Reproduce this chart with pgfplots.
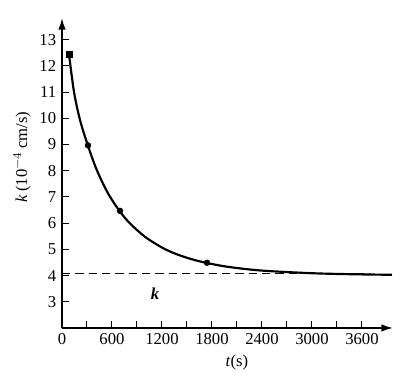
\documentclass[border=0pt]{standalone}
\usepackage{pgfplots}
\pgfplotsset{compat=1.18}
\usetikzlibrary{arrows.meta}
\usepackage{fontspec}
\setmainfont{Liberation Serif}
\begin{document}
\begin{tikzpicture}
\path (0pt,0pt) rectangle (247.2pt,231.6pt);
\begin{axis}[
  at={(37.2pt,34.8pt)}, anchor=south west,
  scale only axis, width=198.6pt, height=186pt,
  xmin=0, xmax=3972, ymin=2, ymax=13.83,
  axis lines=left,
  axis line style={line width=0.9pt, -{Latex[length=7pt,width=4.5pt]}},
  xtick={0,600,...,3600},
  minor xtick={300,900,...,3300},
  ytick={3,...,13},
  tick align=inside,
  major tick length=4pt, minor tick length=4pt,
  tick style={line width=0.6pt, black},
  /pgf/number format/assume math mode=true,
  /pgf/number format/1000 sep={},
  ticklabel style={font=\fontsize{10}{12}\selectfont},
  clip=false,
]
\addplot[black, line width=0.8pt, dash pattern=on 5pt off 3pt] coordinates {(0,4.08) (3700,4.08)};
\addplot[black, line width=1.3pt, smooth] coordinates {
 (84,12.45) (144,11.01) (216,9.94) (312,8.95) (420,8.01) (552,7.14) (696,6.44) (816,5.99)
 (1000,5.47) (1200,5.07) (1356,4.84) (1550,4.63) (1740,4.48) (2000,4.33)
 (2400,4.19) (3000,4.09) (3500,4.05) (3960,4.03)};
\addplot[black, only marks, mark=*, mark size=1.7pt] coordinates {(312,8.97) (696,6.47) (1740,4.49)};
\addplot[black, only marks, mark=square*, mark size=1.9pt] coordinates {(90,12.45)};
\node at (axis cs:1116,3.3) {\textit{\textbf{k}}};
\end{axis}
\node[rotate=90] at (13.2pt,137.4pt) {\textit{k}\,(10$^{-4}$\,cm/s)};
\node at (142.2pt,13.8pt) {\textit{t}(s)};
\end{tikzpicture}
\end{document}
